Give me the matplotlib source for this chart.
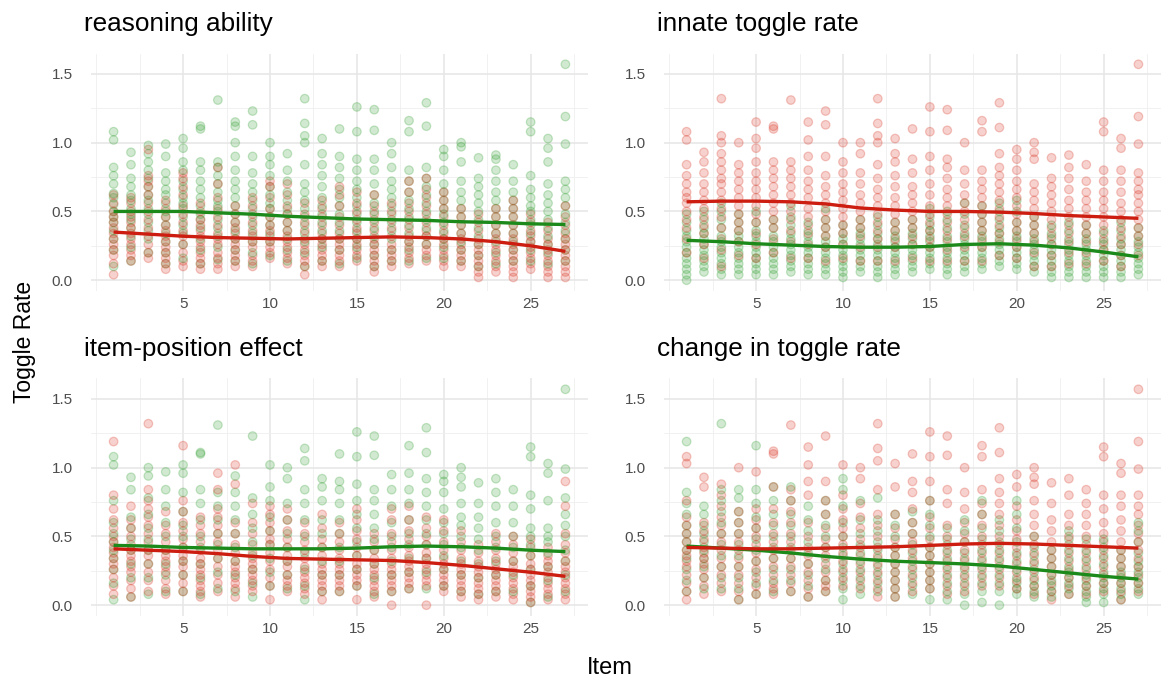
import matplotlib
matplotlib.use("Agg")
import matplotlib.pyplot as plt
import numpy as np
from matplotlib.colors import to_rgba

plt.rcParams['font.family'] = ['Liberation Sans', 'DejaVu Sans']

titles = ["reasoning ability", "innate toggle rate", "item-position effect", "change in toggle rate"]
items = list(range(1, 28))
x_ticks = [5, 10, 15, 20, 25]
y_ticks = [0.0, 0.5, 1.0, 1.5]
y_tick_labels = ["0.0", "0.5", "1.0", "1.5"]

# toggle rates (hundredths) per item, per panel, per group
p1_green = [
 "10 22 30 36 42 46 50 55 60 63 70 76 82 102 108", "14 24 32 38 44 48 52 58 62 68 74 84 93",
 "20 30 36 42 48 52 58 62 68 74 80 86 92 98", "12 20 28 34 40 46 50 56 62 66 72 78 90 99",
 "16 26 34 40 46 52 56 60 66 72 80 86 96 103", "12 22 30 38 44 48 54 60 66 72 80 86 110 112",
 "15 24 32 38 44 50 54 58 64 70 76 82 86 131", "14 22 30 36 42 48 54 60 66 72 80 90 100 112 115",
 "12 20 28 34 40 46 52 58 64 70 78 90 113 123", "18 28 34 40 46 52 56 62 68 76 84 90 100",
 "14 22 30 36 42 48 52 58 64 72 80 92", "10 20 28 34 40 46 52 58 64 70 84 100 105 114 132",
 "14 24 30 36 42 48 54 60 68 76 84 92 103", "12 22 30 36 42 48 54 60 66 74 82 90 110",
 "16 24 30 36 42 48 54 60 66 72 80 88 108 126", "10 18 26 32 38 44 50 56 62 70 80 88 109 124",
 "14 22 30 36 42 48 54 60 66 72 82 92 100", "14 22 28 34 40 46 52 58 64 72 80 108 116",
 "16 26 32 38 44 50 56 62 68 74 82 112 129", "16 24 30 36 42 48 52 58 64 70 80 90 95",
 "14 22 28 34 40 46 52 58 64 72 86 97 100", "10 18 26 32 38 44 50 56 62 68 74 89",
 "12 20 28 34 40 46 52 58 64 72 80 88 91", "14 22 28 34 40 46 52 58 64 72 84",
 "14 22 28 34 40 44 50 54 60 66 76 108 115", "12 20 26 32 38 44 50 56 62 70 86 96 103",
 "14 22 30 36 42 48 54 60 66 72 99 119 157"]
p1_red = [
 "4 12 18 22 26 30 34 38 42 46 50 56 62", "14 18 22 26 30 34 38 42 46 50 56 60",
 "16 20 26 32 38 44 50 56 62 68 72 76 95", "8 12 16 20 24 28 32 36 40 46 52 58",
 "10 14 20 26 32 36 42 48 54 62 68 74 78", "8 12 16 20 24 28 32 36 40 44 50 56",
 "8 12 16 20 26 30 34 40 46 52 60 70 82", "10 14 18 22 26 30 34 38 42 48 54",
 "10 14 18 24 28 32 36 42 48 54 60", "16 20 24 28 32 36 40 46 52 60 68 72",
 "12 16 20 24 28 32 36 42 48 54 62 70", "4 10 14 18 22 26 30 36 42 48 56",
 "10 14 18 22 26 30 34 40 46 52 58", "10 14 18 22 26 30 34 40 46 54 62 68",
 "14 18 22 26 30 34 38 44 50 56 64", "6 10 14 18 22 26 30 36 42 48 54 62",
 "10 14 18 22 26 32 38 44 50 56", "12 16 20 24 28 32 38 44 50 56 64 72",
 "14 18 22 26 32 36 42 48 54 60 66 74", "10 14 18 22 26 30 34 40 46 52 58 64",
 "10 14 18 22 26 30 34 40 46 52", "2 6 10 14 18 22 26 30 36 42 48",
 "6 10 14 18 22 26 30 34 40 46 52", "2 6 10 14 18 22 26 30 34 40 46 52 58",
 "8 12 16 20 24 28 32 36 42 48", "2 6 10 14 18 22 26 30 36 42",
 "2 6 10 14 18 22 26 30 34 40 46 54"]
p2_red = [
 "20 30 38 44 50 56 60 64 70 76 84 102 108", "16 26 34 40 46 52 58 64 70 78 86 93",
 "10 22 30 38 46 52 58 64 70 74 80 86 92 100 105 132", "18 28 36 42 48 54 60 66 72 78 84 100",
 "16 26 34 42 48 54 60 66 72 78 86 96 103 115", "20 30 38 44 50 56 62 68 74 80 86 110 112",
 "16 28 36 44 50 56 62 68 74 80 86 131", "16 26 34 40 46 52 60 66 72 80 90 102 115",
 "14 24 32 38 44 50 56 62 68 76 90 113 123", "16 26 34 40 46 52 58 64 70 78 86 100",
 "14 24 32 38 44 50 56 62 70 78 92 100", "14 24 30 36 42 48 54 60 66 74 84 100 105 114 132",
 "14 24 30 36 42 48 54 60 68 76 86 92 103", "16 26 32 38 44 50 56 62 68 78 88 110",
 "14 24 30 36 42 48 54 62 70 80 90 108 126", "14 22 30 36 42 48 54 60 66 74 82 88 109 124",
 "14 24 32 38 44 50 56 62 70 80 100", "14 24 30 36 42 48 54 60 66 72 80 108 116",
 "18 28 34 40 46 52 58 64 70 76 82 92 111 129", "16 24 30 36 42 48 54 60 66 72 80 88 95",
 "10 20 28 34 40 46 52 58 64 70 88 93 100", "10 18 26 32 38 44 50 56 62 68 74 89",
 "12 20 28 34 40 46 52 58 66 74 82 91", "12 20 28 34 40 46 52 58 64 72 84",
 "14 22 28 34 40 46 52 58 64 72 80 108 115", "10 18 26 32 38 44 50 56 64 72 80 96 103",
 "18 26 32 38 44 50 56 62 66 72 78 99 119 157"]
p2_green = [
 "0 4 8 12 16 20 24 28 32 36 42 48", "6 10 14 18 22 26 30 34 38 44 50",
 "4 8 12 16 20 24 28 32 38 44 50 56", "4 8 12 16 20 24 28 32 36 42 48",
 "4 8 12 16 20 24 28 32 36 42 50", "4 8 12 16 20 24 28 32 38 44",
 "6 10 14 18 22 26 30 34 40 46 54", "4 8 12 16 20 24 28 32 36 42",
 "4 8 12 16 20 24 28 32 38 44 52", "2 6 10 14 18 22 26 30 34 40",
 "6 10 14 18 22 26 30 34 38 44", "2 6 10 14 18 22 26 30 34 40 46",
 "4 8 12 16 20 24 28 32 36 42", "6 10 14 18 22 26 30 34 38 44",
 "8 12 16 20 24 28 32 36 40 46 52", "4 8 12 16 20 24 28 32 38 44 50",
 "6 10 14 18 22 26 30 34 40 48 56", "8 12 16 20 24 28 32 36 42 48 54",
 "10 14 18 22 26 30 34 38 44 50 56", "8 12 16 20 24 28 32 36 42 50 58",
 "6 10 14 18 22 26 30 34 40 46", "2 6 10 14 18 22 26 30 34 40",
 "2 6 10 14 18 22 26 30 36 42", "2 6 10 14 18 22 26 30 34 40",
 "2 6 10 14 18 22 26 30 36", "2 6 10 14 18 22 26 30 36 42",
 "4 8 12 16 20 24 28 32 38"]
p3_red = [
 "8 14 20 26 30 34 38 42 46 50 56 62 70 80 119", "6 12 18 24 28 32 36 40 44 50 56 62 72",
 "10 18 24 30 36 40 46 52 58 64 70 76 84 132", "8 12 18 24 28 32 36 40 46 52 58 68",
 "10 16 22 28 32 36 42 48 54 60 68 76 116", "6 10 14 18 22 26 30 34 40 46 52 58 64",
 "10 16 22 28 34 40 46 52 58 64 70 84 96", "6 12 16 20 24 28 32 38 44 52 60 88 102",
 "10 14 18 22 26 30 34 38 44 52 60 74", "4 14 20 26 32 38 44 48 54 60 66 72",
 "10 14 18 22 28 32 36 42 48 54 62 70", "8 12 16 20 24 28 34 40 46 52 60",
 "4 10 14 18 22 26 30 36 42 48 56 66", "10 14 18 22 26 30 34 40 46 52 60",
 "4 14 18 22 26 30 36 42 48 54 62 70", "6 10 14 18 22 26 30 34 40 46 52",
 "0 10 14 18 22 26 30 34 40 46 52 62 70", "12 16 20 24 28 32 36 42 48 54 62 72",
 "0 14 18 22 26 30 34 38 44 50 56 64", "10 14 18 22 26 30 34 40 46 54 62",
 "6 10 14 18 22 26 30 34 40 46 54", "4 8 12 16 20 24 28 32 38 44",
 "6 10 14 18 22 26 30 34 40 46 52", "4 8 12 16 20 24 28 32 38 44 50",
 "2 6 10 14 18 22 26 30 36 42 48", "4 8 12 16 20 24 28 32 36 42",
 "4 8 12 16 20 24 28 32 38 44 52 72 90"]
p3_green = [
 "4 16 26 34 40 46 52 60 76 102 108", "6 20 30 40 48 56 64 84 93",
 "8 20 30 40 48 56 66 78 94 100", "10 22 30 40 50 60 72 84 97",
 "10 22 32 42 50 58 68 82 96 102", "8 20 30 42 50 62 74 84 110 111",
 "12 24 34 44 52 62 72 82 131", "10 22 32 42 52 62 72 82 94",
 "6 16 26 36 46 56 66 78 123", "14 24 34 44 54 64 76 86 102",
 "12 22 32 42 52 62 74 92 100", "4 14 26 38 50 62 74 84 105 114",
 "10 22 32 42 52 62 76 86 92", "10 22 32 42 52 62 74 84 90 110",
 "14 26 36 46 56 66 76 88 108 126", "8 20 30 40 48 56 66 76 84 109 123",
 "10 22 32 42 50 60 72 84 95", "12 24 34 44 52 62 74 84 96 116",
 "12 24 34 44 52 62 72 82 92 111 129", "14 26 36 44 52 60 70 82 90 95",
 "10 22 32 42 50 58 64 74 86 93 100", "8 20 30 40 48 56 64 74 89",
 "10 22 32 42 50 60 72 82 92", "10 22 32 42 50 60 72 84",
 "2 14 26 36 44 50 56 70 80 108 115", "6 18 28 38 46 50 56 76 96 103",
 "10 22 32 40 50 58 66 78 99 157"]
p4_red = [
 "4 10 16 22 28 32 36 40 46 52 58 64 76 103 108", "8 14 20 26 30 34 38 42 48 54 60 86 93",
 "10 16 22 28 34 40 46 52 58 64 72 80 88", "4 10 16 22 28 34 40 46 52 60 68 100",
 "8 14 20 26 32 38 44 50 56 62 70 97", "8 12 16 22 28 34 40 46 52 60 70 86 110 112",
 "10 16 22 28 34 40 46 52 60 68 76 84 131", "6 12 18 24 30 36 42 50 60 80 90 102 115",
 "10 14 18 24 30 36 42 48 56 66 76 90 123", "14 20 26 32 38 44 50 56 62 70 80 102",
 "12 18 24 30 36 42 48 56 64 74 92 100", "6 12 18 24 30 36 42 50 58 66 84 105 114 132",
 "6 12 18 24 30 36 42 48 56 66 86 103", "10 16 22 28 34 40 46 52 60 70 82 90 110",
 "12 18 24 30 36 42 48 56 64 76 90 108 126", "8 14 20 26 32 38 44 50 58 74 84 109 123",
 "10 16 22 28 34 40 46 52 60 70 82 100", "14 20 26 32 38 44 50 58 66 74 84 108 116",
 "14 20 26 32 38 44 50 58 66 74 82 92 111 129", "12 18 24 30 36 42 48 54 62 72 86 95",
 "8 14 20 26 32 38 44 50 58 66 76 88 93 100", "4 10 16 22 28 34 40 46 54 62 74 89",
 "8 14 20 26 32 38 44 50 58 66 80 92", "8 14 20 26 32 38 44 50 58 66 74 84",
 "10 16 22 28 34 40 46 52 60 70 80 108 115", "4 10 16 22 28 34 40 46 54 62 72 80 96 103",
 "10 16 22 28 34 40 46 52 58 66 72 80 99 119 157"]
p4_green = [
 "10 18 26 34 40 46 52 58 66 74 82 119", "12 20 28 34 40 46 52 58 66 72",
 "12 20 28 36 44 52 60 68 76 84 132", "4 12 20 28 36 44 52 60 68 78 84",
 "8 16 24 32 40 48 56 64 74 84 116", "10 18 26 34 42 50 58 66 76 86",
 "10 18 26 34 42 50 58 66 76 86", "6 14 22 30 38 46 54 62 72",
 "10 18 26 34 42 50 58 66 76", "4 12 18 24 30 36 42 50 60 72 84 92",
 "8 14 20 26 32 38 44 52 62 76", "10 16 22 28 34 40 46 54 62 78",
 "6 12 18 24 30 36 42 50 58 66", "8 14 20 26 32 38 44 52 60 68",
 "4 12 18 24 30 36 42 50 58 66 76", "4 10 16 22 28 34 40 48 56",
 "0 8 14 20 26 32 38 46 54 62", "2 10 16 22 28 34 40 48 56 66 76",
 "0 10 16 22 28 34 40 46 54 62", "8 12 16 20 26 32 38 46 56 66 76",
 "6 10 14 18 24 30 36 42 50", "6 10 14 18 22 28 34 40",
 "8 12 16 20 24 28 34 40 48 54", "2 6 10 14 18 22 28 34 40 48",
 "2 8 12 16 20 24 30 36 42 48", "4 8 12 16 20 24 28 34 40",
 "8 12 16 20 24 28 32 38 46 54 60"]

# smoothed trend lines (item, value)
smooth_x = [1, 3, 5, 7, 9, 11, 13, 15, 17, 19, 21, 23, 25, 27]
p1_green_smooth = [0.50, 0.50, 0.50, 0.49, 0.48, 0.465, 0.455, 0.445, 0.44, 0.435, 0.425, 0.42, 0.41, 0.405]
p1_red_smooth = [0.35, 0.335, 0.32, 0.31, 0.305, 0.30, 0.305, 0.31, 0.315, 0.31, 0.30, 0.28, 0.25, 0.21]
p2_red_smooth = [0.57, 0.575, 0.575, 0.57, 0.555, 0.525, 0.51, 0.50, 0.50, 0.495, 0.485, 0.47, 0.46, 0.45]
p2_green_smooth = [0.29, 0.28, 0.265, 0.255, 0.245, 0.24, 0.24, 0.245, 0.26, 0.265, 0.255, 0.235, 0.205, 0.17]
p3_green_smooth = [0.435, 0.43, 0.42, 0.415, 0.41, 0.41, 0.41, 0.415, 0.425, 0.43, 0.425, 0.415, 0.40, 0.39]
p3_red_smooth = [0.41, 0.40, 0.39, 0.375, 0.355, 0.34, 0.335, 0.33, 0.325, 0.31, 0.29, 0.265, 0.24, 0.21]
p4_red_smooth = [0.42, 0.415, 0.41, 0.41, 0.415, 0.42, 0.425, 0.435, 0.445, 0.45, 0.445, 0.435, 0.425, 0.415]
p4_green_smooth = [0.43, 0.415, 0.40, 0.38, 0.355, 0.335, 0.32, 0.31, 0.30, 0.285, 0.26, 0.235, 0.21, 0.19]

panels = [
    (p1_green, p1_red, p1_green_smooth, p1_red_smooth),
    (p2_green, p2_red, p2_green_smooth, p2_red_smooth),
    (p3_green, p3_red, p3_green_smooth, p3_red_smooth),
    (p4_green, p4_red, p4_green_smooth, p4_red_smooth),
]

GREEN_PT = "#2e9e2e"
RED_PT = "#d9301f"
GREEN_LN = "#1b8a1b"
RED_LN = "#cc1d10"

W, H = 1168, 682
fig = plt.figure(figsize=(W / 100, H / 100), dpi=100)

def px_box(x0, x1, y0, y1):
    return [x0 / W, 1 - y1 / H, (x1 - x0) / W, (y1 - y0) / H]

boxes = [px_box(91, 588, 53.5, 291), px_box(664, 1161, 53.5, 291),
         px_box(91, 588, 378.5, 616), px_box(664, 1161, 378.5, 616)]

def parse(strs):
    xs, ys = [], []
    for it, s in zip(items, strs):
        for v in s.split():
            xs.append(it)
            ys.append(int(v) / 100.0)
    return xs, ys

for idx, (box, title, (g, r, gs, rs)) in enumerate(zip(boxes, titles, panels)):
    ax = fig.add_axes(box)
    ax.set_xlim(-0.3, 28.3)
    ax.set_ylim(-0.0785, 1.6485)
    for s in ax.spines.values():
        s.set_visible(False)
    ax.set_facecolor("white")
    # grid
    for xv in [0, 2.5, 7.5, 12.5, 17.5, 22.5, 27.5]:
        ax.axvline(xv, color="#eeeeee", lw=0.55, zorder=0)
    for xv in x_ticks:
        ax.axvline(xv, color="#e6e6e6", lw=1.1, zorder=0)
    for yv in [0.25, 0.75, 1.25]:
        ax.axhline(yv, color="#eeeeee", lw=0.55, zorder=0)
    for yv in y_ticks:
        ax.axhline(yv, color="#e6e6e6", lw=1.1, zorder=0)

    gx, gy = parse(g)
    rx, ry = parse(r)
    xs = gx + rx
    ys = gy + ry
    cols = [GREEN_PT] * len(gx) + [RED_PT] * len(rx)
    order = sorted(range(len(xs)), key=lambda i: (xs[i], ys[i]))
    fc = [to_rgba(cols[i], 0.22) for i in order]
    ec = [to_rgba(cols[i], 0.26) for i in order]
    ax.scatter([xs[i] for i in order], [ys[i] for i in order], s=38,
               facecolors=fc, edgecolors=ec, linewidths=0.9, zorder=2)

    ax.plot(smooth_x, gs, color=GREEN_LN, lw=2.4, zorder=3, solid_capstyle="butt")
    ax.plot(smooth_x, rs, color=RED_LN, lw=2.4, zorder=3, solid_capstyle="butt")

    ax.set_xticks(x_ticks)
    ax.set_xticklabels([str(t) for t in x_ticks])
    ax.set_yticks(y_ticks)
    ax.set_yticklabels(y_tick_labels)
    ax.tick_params(axis="both", length=0, labelsize=11, labelcolor="#4d4d4d")
    ax.tick_params(axis="y", pad=13)
    ax.tick_params(axis="x", pad=4)
    ax.text(-0.015, 1.094, title, transform=ax.transAxes, ha="left", va="baseline",
            fontsize=18.8, color="black")

fig.text(24 / W, 1 - 342 / H, "Toggle Rate", rotation=90, ha="center", va="center",
         fontsize=16.5, color="black")
fig.text(610 / W, 1 - 668 / H, "Item", ha="center", va="center", fontsize=17, color="black")

fig.savefig("out.png", dpi=100, facecolor="white")
